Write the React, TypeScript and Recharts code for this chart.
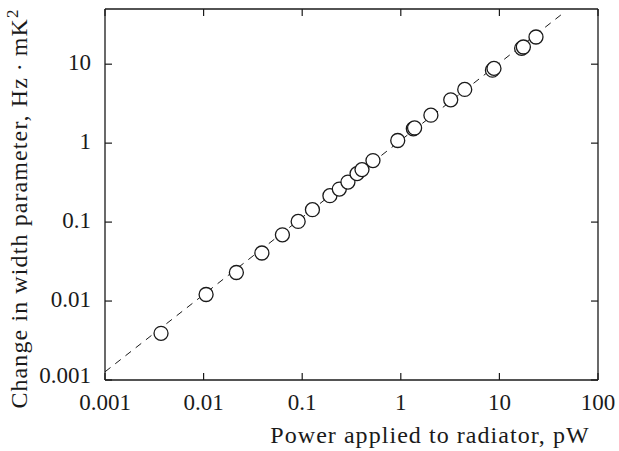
import { ScatterChart, Scatter, XAxis, YAxis } from 'recharts';

const powerValues = [0.0037, 0.0106, 0.0215, 0.039, 0.063, 0.091, 0.127, 0.191, 0.238, 0.291, 0.36, 0.404, 0.522, 0.931, 1.34, 1.38, 2.02, 3.21, 4.45, 8.5, 8.81, 16.8, 17.5, 23.5];
const widthValues = [0.0039, 0.0121, 0.023, 0.0406, 0.069, 0.102, 0.1435, 0.216, 0.262, 0.321, 0.411, 0.462, 0.601, 1.08, 1.52, 1.56, 2.26, 3.54, 4.79, 8.4, 8.85, 15.9, 16.5, 22.1];

// dashed fit line end points
const fitPower = [0.001, 42];
const fitWidth = [0.00127, 42];

const xTicks = [0.001, 0.01, 0.1, 1, 10, 100];
const yTicks = [0.001, 0.01, 0.1, 1, 10];
const xDomain = [0.001, 100];
const yDomain = [0.001, 50];

const points = powerValues.map((p, i) => ({ x: p, y: widthValues[i] }));
const fitLine = fitPower.map((p, i) => ({ x: p, y: fitWidth[i] }));

// chart layout
const W = 619;
const H = 451;
const M = { top: 9, right: 21, bottom: 11, left: 35 };
const X_AXIS_H = 60;
const Y_AXIS_W = 70;
const PLOT_TOP = M.top;
const PLOT_BOTTOM = H - M.bottom - X_AXIS_H;
const PLOT_LEFT = M.left + Y_AXIS_W;
const PLOT_RIGHT = W - M.right;
const TICK = 7;
const INK = '#1a1a1a';

const fontStyle = { fontFamily: '"Liberation Serif", "Times New Roman", serif' };

const OpenCircle = (props: any) => (
  <circle cx={props.cx} cy={props.cy} r={7} fill="#fff" stroke={INK} strokeWidth={1.3} />
);

// ticks point inward, mirrored on the opposite side; first tick also draws the frame edges
const XTick = ({ x, payload, index }: any) => (
  <g>
    {index === 0 && (
      <>
        <line x1={PLOT_LEFT} x2={PLOT_RIGHT} y1={PLOT_TOP} y2={PLOT_TOP} stroke={INK} strokeWidth={1.3} />
        <line x1={PLOT_LEFT} x2={PLOT_RIGHT} y1={PLOT_BOTTOM} y2={PLOT_BOTTOM} stroke={INK} strokeWidth={1.3} />
      </>
    )}
    <line x1={x} x2={x} y1={PLOT_BOTTOM} y2={PLOT_BOTTOM - TICK} stroke={INK} strokeWidth={1.2} />
    <line x1={x} x2={x} y1={PLOT_TOP} y2={PLOT_TOP + TICK} stroke={INK} strokeWidth={1.2} />
    <text x={x} y={PLOT_BOTTOM + 30} textAnchor="middle" style={fontStyle} fontSize={23} fill={INK}>
      {payload.value}
    </text>
  </g>
);

const YTick = ({ y, payload, index }: any) => (
  <g>
    {index === 0 && (
      <>
        <line x1={PLOT_LEFT} x2={PLOT_LEFT} y1={PLOT_TOP} y2={PLOT_BOTTOM} stroke={INK} strokeWidth={1.3} />
        <line x1={PLOT_RIGHT} x2={PLOT_RIGHT} y1={PLOT_TOP} y2={PLOT_BOTTOM} stroke={INK} strokeWidth={1.3} />
      </>
    )}
    <line x1={PLOT_LEFT} x2={PLOT_LEFT + TICK} y1={y} y2={y} stroke={INK} strokeWidth={1.2} />
    <line x1={PLOT_RIGHT} x2={PLOT_RIGHT - TICK} y1={y} y2={y} stroke={INK} strokeWidth={1.2} />
    <text x={PLOT_LEFT - 14} y={y + (index === 0 ? 3 : 6)} textAnchor="end" style={fontStyle} fontSize={23} fill={INK}>
      {payload.value}
    </text>
  </g>
);

const XTitle = () => (
  <text x={430} y={443} textAnchor="middle" style={fontStyle} fontSize={24} letterSpacing={1.05} fill={INK}>
    Power applied to radiator, pW
  </text>
);

const YTitle = () => (
  <text
    x={27}
    y={208.5}
    transform="rotate(-90, 27, 208.5)"
    textAnchor="middle"
    style={fontStyle}
    fontSize={24}
    letterSpacing={1.1}
    fill={INK}
  >
    Change in width parameter, Hz{'\u2009·\u2009'}mK
    <tspan fontSize={17} dy={-9}>2</tspan>
  </text>
);

export default function App() {
  return (
    <div style={{ position: 'absolute', left: 0, top: 0, background: '#fff' }}>
      <ScatterChart width={W} height={H} margin={M}>
        <XAxis
          dataKey="x"
          type="number"
          scale="log"
          domain={xDomain}
          ticks={xTicks}
          interval={0}
          allowDataOverflow
          height={X_AXIS_H}
          axisLine={false}
          tickLine={false}
          tick={XTick}
          label={XTitle}
        />
        <YAxis
          dataKey="y"
          type="number"
          scale="log"
          domain={yDomain}
          ticks={yTicks}
          interval={0}
          allowDataOverflow
          width={Y_AXIS_W}
          axisLine={false}
          tickLine={false}
          tick={YTick}
          label={YTitle}
        />
        <Scatter
          data={fitLine}
          line={{ stroke: INK, strokeWidth: 1, strokeDasharray: '7 6' }}
          shape={() => <g />}
          isAnimationActive={false}
        />
        <Scatter data={points} shape={OpenCircle} isAnimationActive={false} />
      </ScatterChart>
    </div>
  );
}
